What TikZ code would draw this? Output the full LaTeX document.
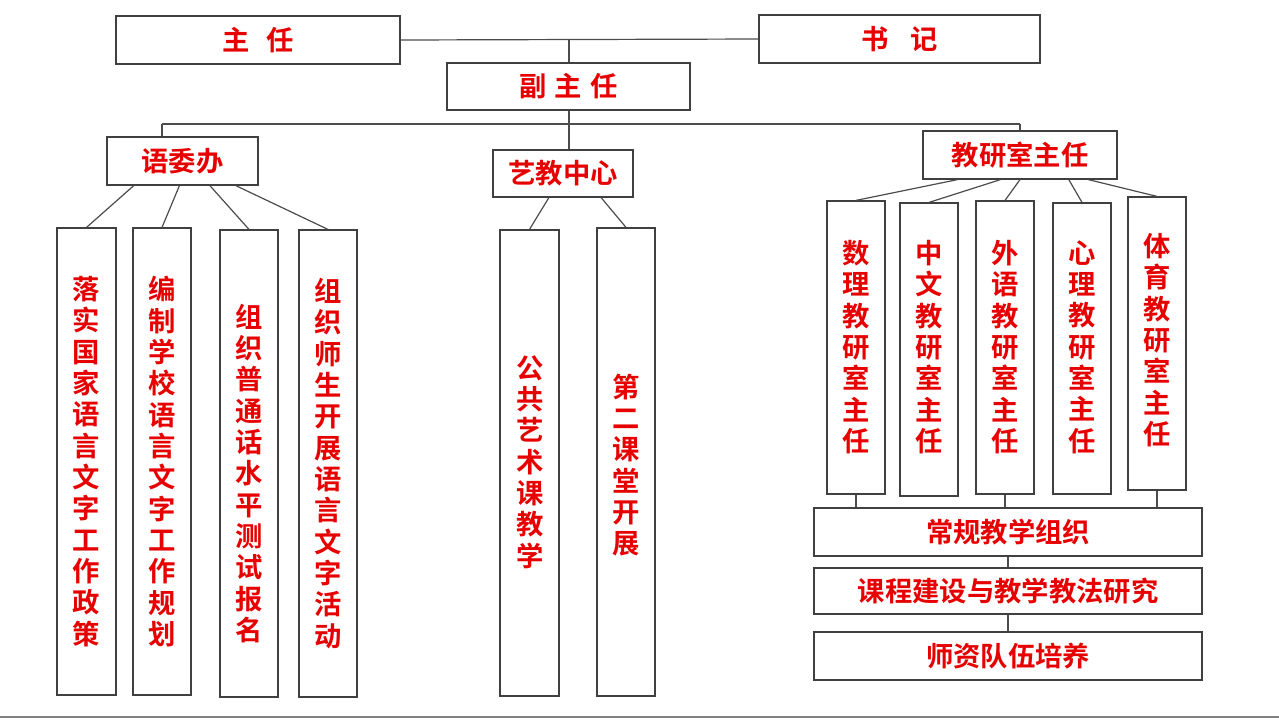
\documentclass[tikz,border=0pt]{standalone}
\usepackage{fontspec}
\newfontfamily\cjk{Noto Sans CJK SC}[BoldFont={Noto Sans CJK SC Bold}]
\usetikzlibrary{calc}
\definecolor{tred}{RGB}{230,0,0}
\tikzset{box/.style={draw=black!75,line width=0.9pt,inner sep=0pt},
 ln/.style={draw=black!70,line width=0.9pt},
 lbl/.style={text=tred,font=\cjk\bfseries\fontsize{20.5}{23.5}\selectfont,align=center,inner sep=0pt}}
\newcommand\bx[6]{\node[box,minimum width={(#4-#2)*0.75pt},minimum height={(#5-#3)*0.75pt}] (#1) at ({(#2+#4)/2},{(#3+#5)/2}) {};}
\begin{document}
\begin{tikzpicture}[x=0.75pt,y=-0.75pt]
\useasboundingbox (0,0) rectangle (1279,719);
\fill[white] (0,0) rectangle (1279,719);
\draw[black!50,line width=1pt] (0,717) -- (1279,717);
\bx{zr}{116}{16}{400}{64}{}
\bx{sj}{759}{15}{1040}{63}{}
\bx{fzr}{447}{63}{690}{110}{}
\bx{ywb}{107}{137}{258}{185}{}
\bx{yj}{493}{150}{633}{197}{}
\bx{jy}{923}{131}{1117}{179}{}
\bx{a1}{57}{228}{116}{695}{}
\bx{a2}{133}{228}{191}{695}{}
\bx{a3}{220}{230}{278}{697}{}
\bx{a4}{299}{230}{357}{697}{}
\bx{b1}{500}{230}{559}{696}{}
\bx{b2}{597}{228}{655}{696}{}
\bx{c1}{827}{201}{885}{494}{}
\bx{c2}{900}{203}{958}{496}{}
\bx{c3}{976}{201}{1034}{494}{}
\bx{c4}{1053}{203}{1111}{494}{}
\bx{c5}{1128}{197}{1186}{490}{}
\bx{d1}{814}{508}{1202}{556}{}
\bx{d2}{814}{568}{1202}{614}{}
\bx{d3}{814}{632}{1202}{680}{}
\node[lbl] (tzr) at (zr) {主\hspace{0.6em}任};
\node[lbl] (tsj) at (sj) {书\hspace{0.8em}记};
\node[lbl] (tfzr) at (fzr) {副\hspace{0.3em}主\hspace{0.3em}任};
\node[lbl] (tywb) at (ywb) {语委办};
\node[lbl] (tyj) at (yj) {艺教中心};
\node[lbl] (tjy) at (jy) {教研室主任};
\node[lbl] (ta1) at (a1) {落\\实\\国\\家\\语\\言\\文\\字\\工\\作\\政\\策};
\node[lbl] (ta2) at (a2) {编\\制\\学\\校\\语\\言\\文\\字\\工\\作\\规\\划};
\node[lbl] (ta3) at ([yshift=-0.75pt*10]a3) {组\\织\\普\\通\\话\\水\\平\\测\\试\\报\\名};
\node[lbl] (ta4) at (a4) {组\\织\\师\\生\\开\\展\\语\\言\\文\\字\\活\\动};
\node[lbl] (tb1) at (530,462) {公\\共\\艺\\术\\课\\教\\学};
\node[lbl] (tb2) at (626,465) {第\\二\\课\\堂\\开\\展};
\node[lbl] (tc1) at (856,347) {数\\理\\教\\研\\室\\主\\任};
\node[lbl] (tc2) at (929,347) {中\\文\\教\\研\\室\\主\\任};
\node[lbl] (tc3) at (1005,347) {外\\语\\教\\研\\室\\主\\任};
\node[lbl] (tc4) at (1082,347) {心\\理\\教\\研\\室\\主\\任};
\node[lbl] (tc5) at (1157,340) {体\\育\\教\\研\\室\\主\\任};
\node[lbl] (td1) at (d1) {常规教学组织};
\node[lbl] (td2) at (d2) {课程建设与教学教法研究};
\node[lbl] (td3) at (d3) {师资队伍培养};
% top connectors
\draw[ln] (zr.east) -- (sj.west);
\coordinate (m1) at (569,40);
\draw[ln] (m1) -- (m1|-fzr.north);
\coordinate (h0) at (569,124);
\coordinate (hl) at (162,124);
\coordinate (hr) at (1020,124);
\draw[ln] (h0|-fzr.south) -- (h0);
\draw[ln] (hl) -- (hr);
\draw[ln] (hl) -- (hl|-ywb.north);
\draw[ln] (h0) -- (h0|-yj.north);
\draw[ln] (hr) -- (hr|-jy.north);
% 语委办 children
\draw[ln] ($(ywb.south west)!0.18!(ywb.south east)$) -- (a1.north);
\draw[ln] ($(ywb.south west)!0.48!(ywb.south east)$) -- (a2.north);
\draw[ln] ($(ywb.south west)!0.68!(ywb.south east)$) -- (a3.north);
\draw[ln] ($(ywb.south west)!0.85!(ywb.south east)$) -- (a4.north);
% 艺教 children
\draw[ln] ($(yj.south west)!0.4!(yj.south east)$) -- (b1.north);
\draw[ln] ($(yj.south west)!0.77!(yj.south east)$) -- (b2.north);
% 教研室 children
\draw[ln] ($(jy.south west)!0.18!(jy.south east)$) -- (c1.north);
\draw[ln] ($(jy.south west)!0.4!(jy.south east)$) -- (c2.north);
\draw[ln] ($(jy.south west)!0.5!(jy.south east)$) -- (c3.north);
\draw[ln] ($(jy.south west)!0.75!(jy.south east)$) -- (c4.north);
\draw[ln] ($(jy.south west)!0.85!(jy.south east)$) -- (c5.north);
% bottom
\draw[ln] (c1.south) -- (c1.south|-d1.north);
\draw[ln] (c3.south) -- (c3.south|-d1.north);
\draw[ln] (c5.south) -- (c5.south|-d1.north);
\draw[ln] (d1.south) -- (d2.north);
\draw[ln] (d2.south) -- (d3.north);
\end{tikzpicture}
\end{document}
